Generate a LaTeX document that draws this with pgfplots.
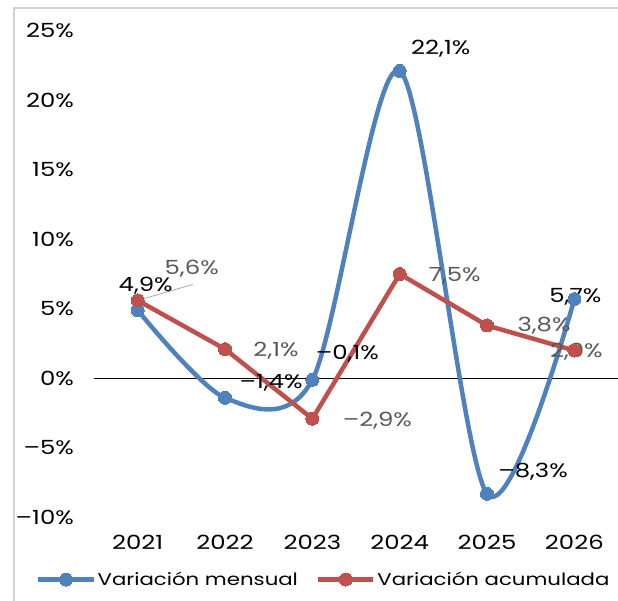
\documentclass[border=0pt]{standalone}
\usepackage{fontspec}
\setmainfont{Poppins}[FakeStretch=1.25]
\usepackage{pgfplots}
\pgfplotsset{compat=1.18}
\definecolor{serA}{HTML}{4F81BD}
\definecolor{serB}{HTML}{C0504D}
\definecolor{lblgray}{HTML}{595959}
\newcommand{\fs}{\fontsize{19.5}{22}\selectfont}
\newcommand{\fl}{\fontsize{17}{20}\selectfont}
\begin{document}
\begin{tikzpicture}[x=1pt,y=1pt]
\draw[black!18, line width=1.2pt] (14,-5) -- (14,593) -- (625,593);
\node[font=\fs, anchor=base] at (318,601) {Marzo 2021 - 2026};
\begin{axis}[
  at={(107.7,60)}, anchor=south west, scale only axis,
  width=524pt, height=487pt,
  xmin=-0.5, xmax=5.5, ymin=-10, ymax=25,
  axis line style={draw=none}, tick style={draw=none},
  clip=false,
  xtick={0,1,2,3,4,5},
  xticklabels={2021,2022,2023,2024,2025,2026},
  ytick={-10,-5,0,5,10,15,20,25},
  yticklabels={–10\%,–5\%,0\%,5\%,10\%,15\%,20\%,25\%},
  yticklabel style={font=\fs, anchor=east, inner sep=0pt, text depth=0pt, xshift=-20pt},
  xticklabel style={font=\fs, anchor=center, inner sep=0pt, text depth=0pt, yshift=-25pt},
  legend style={at={(-0.1107,-0.1273)}, anchor=west, draw=none, fill=none, inner sep=0pt,
    font=\fl, legend columns=2,
    /tikz/every even column/.append style={column sep=16pt}},
  legend image code/.code={\draw[mark repeat=2,mark phase=2,#1] plot coordinates {(0pt,0pt) (27.5pt,0pt) (55pt,0pt)};},
]
\addplot[black, line width=1.6pt, forget plot] coordinates {(-0.5,0) (5.5,0)};
\addplot[serA, line width=4.5pt, smooth, tension=0.5, mark=*, mark size=6.5pt,
  mark options={fill=serA, draw=serA, line width=0pt}]
  coordinates {(0,4.9) (1,-1.4) (2,-0.1) (3,22.1) (4,-8.3) (5,5.7)};
\addlegendentry{Variación mensual}
\addplot[serB, line width=4.5pt, mark=*, mark size=6.5pt,
  mark options={fill=serB, draw=serB, line width=0pt}]
  coordinates {(0,5.6) (1,2.1) (2,-2.9) (3,7.5) (4,3.8) (5,2.0)};
\addlegendentry{Variación acumulada}
% leader line for 5,6%
\draw[gray!70, line width=0.8pt] (axis cs:0,5.6) -- ++(55pt,16pt);
% labels, blue series
\tikzset{lbl/.style={font=\fs, anchor=center, inner sep=0pt, text depth=0pt}}
\node[lbl, text=black, xshift=8pt, yshift=26pt] at (axis cs:0,4.9) {4,9\%};
\node[lbl, text=black, xshift=46pt, yshift=16.5pt] at (axis cs:1,-1.4) {–1,4\%};
\node[lbl, text=black, xshift=35pt, yshift=27pt] at (axis cs:2,-0.1) {–0,1\%};
\node[lbl, text=black, xshift=41pt, yshift=24pt] at (axis cs:3,22.1) {22,1\%};
\node[lbl, text=black, xshift=46pt, yshift=23.5pt] at (axis cs:4,-8.3) {–8,3\%};
\node[lbl, text=black, xshift=1pt, yshift=4pt] at (axis cs:5,5.7) {5,7\%};
% labels, red series
\node[lbl, text=lblgray, xshift=54pt, yshift=33pt] at (axis cs:0,5.6) {5,6\%};
\node[lbl, text=lblgray, xshift=51pt, yshift=0pt] at (axis cs:1,2.1) {2,1\%};
\node[lbl, text=lblgray, xshift=65pt, yshift=-1pt] at (axis cs:2,-2.9) {–2,9\%};
\node[lbl, text=lblgray, xshift=55pt, yshift=0pt] at (axis cs:3,7.5) {7,5\%};
\node[lbl, text=lblgray, xshift=57pt, yshift=1pt] at (axis cs:4,3.8) {3,8\%};
\node[lbl, text=lblgray, xshift=2pt, yshift=0pt] at (axis cs:5,2.0) {2,0\%};
\end{axis}
\pgfresetboundingbox
\useasboundingbox (0,0) rectangle (618,601);
\end{tikzpicture}
\end{document}
